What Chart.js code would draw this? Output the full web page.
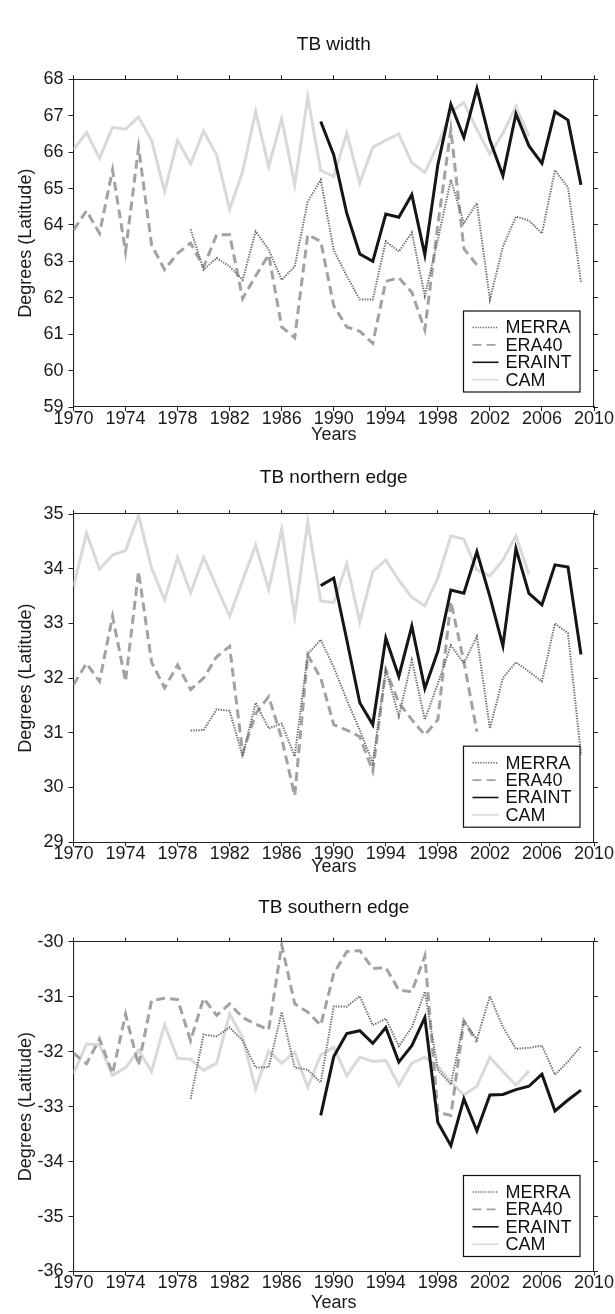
<!DOCTYPE html>
<html>
<head>
<meta charset="utf-8">
<script src="https://cdn.jsdelivr.net/npm/chart.js@4.4.1/dist/chart.umd.min.js"></script>
<style>
html,body{margin:0;padding:0;background:#fff;}
#wrap{position:relative;width:615px;height:1314px;overflow:hidden;}
canvas{position:absolute;left:0;}
</style>
</head>
<body>
<div id="wrap">
<canvas id="c1" width="615" height="445" style="top:0px"></canvas>
<canvas id="c2" width="615" height="432" style="top:445px"></canvas>
<canvas id="c3" width="615" height="437" style="top:877px"></canvas>
</div>
<script>
// ---------- DATA ----------
const years = [1970,1971,1972,1973,1974,1975,1976,1977,1978,1979,
               1980,1981,1982,1983,1984,1985,1986,1987,1988,1989,
               1990,1991,1992,1993,1994,1995,1996,1997,1998,1999,
               2000,2001,2002,2003,2004,2005,2006,2007,2008,2009];
const seriesNames = ['MERRA','ERA40','ERAINT','CAM'];
const xTickYears = [1970,1974,1978,1982,1986,1990,1994,1998,2002,2006,2010];
const panelTitles = ['TB width','TB northern edge','TB southern edge'];
const yTicksWidth = [59,60,61,62,63,64,65,66,67,68];
const yTicksNorth = [29,30,31,32,33,34,35];
const yTicksSouth = [-36,-35,-34,-33,-32,-31,-30];
const N = null;

// TB width
const widthMERRA = [N,N,N,N,N,N,N,N,N,
  63.88,62.77,63.09,62.86,62.49,63.82,63.32,62.49,62.86,64.64,65.24,
  63.30,62.60,61.95,61.95,63.55,63.27,63.79,62.05,63.60,65.24,
  64.05,64.60,61.95,63.40,64.23,64.12,63.77,65.50,65.03,62.43];
const widthERA40 = [63.86,64.39,63.77,65.51,63.27,66.13,63.45,62.77,63.22,63.50,
  62.85,63.73,63.73,61.98,62.60,63.18,61.20,60.90,63.73,63.55,
  61.78,61.20,61.08,60.75,62.45,62.55,62.15,61.12,64.00,66.62,
  63.35,62.90,N,N,N,N,N,N,N,N];
const widthERAINT = [N,N,N,N,N,N,N,N,N,N,N,N,N,N,N,N,N,N,N,
  66.84,65.92,64.32,63.20,63.00,64.30,64.21,64.83,63.18,65.65,67.31,
  66.40,67.75,66.33,65.35,67.05,66.17,65.69,67.11,66.88,65.10];
const widthCAM = [66.06,66.54,65.83,66.68,66.63,66.96,66.33,64.92,66.32,65.68,
  66.58,65.92,64.43,65.47,67.11,65.60,66.91,65.10,67.51,65.50,
  65.33,66.52,65.15,66.13,66.33,66.50,65.71,65.44,66.20,67.10,
  67.36,66.62,65.95,66.52,67.25,66.43,N,N,N,N];

// TB northern edge
const northMERRA = [N,N,N,N,N,N,N,N,N,
  31.04,31.05,31.43,31.40,30.57,31.55,31.08,31.17,30.57,32.44,32.70,
  32.20,31.60,31.05,30.45,32.15,31.30,32.33,31.24,31.90,32.60,
  32.27,32.76,31.08,32.00,32.29,32.12,31.94,33.00,32.82,30.60];
const northERA40 = [31.88,32.27,31.94,33.13,31.94,33.95,32.29,31.82,32.24,31.79,
  32.00,32.39,32.58,30.63,31.35,31.66,30.90,29.85,32.42,32.00,
  31.15,31.05,30.93,30.30,32.15,31.55,31.24,30.96,31.24,33.40,
  32.30,31.02,N,N,N,N,N,N,N,N];
const northERAINT = [N,N,N,N,N,N,N,N,N,N,N,N,N,N,N,N,N,N,N,
  33.69,33.83,32.70,31.55,31.15,32.73,32.03,32.95,31.81,32.49,33.61,
  33.55,34.31,33.49,32.59,34.37,33.55,33.34,34.07,34.03,32.43];
const northCAM = [33.67,34.65,33.99,34.25,34.33,34.98,34.01,33.43,34.21,33.56,
  34.21,33.67,33.13,33.79,34.43,33.62,34.72,33.13,34.86,33.41,
  33.38,34.09,33.03,33.95,34.16,33.79,33.48,33.32,33.83,34.60,
  34.54,33.98,33.87,34.16,34.60,33.90,N,N,N,N];

// TB southern edge
const southMERRA = [N,N,N,N,N,N,N,N,N,
  -32.86,-31.69,-31.72,-31.56,-31.80,-32.29,-32.28,-31.28,-32.29,-32.33,-32.56,
  -31.18,-31.18,-30.99,-31.52,-31.40,-31.90,-31.56,-30.91,-32.33,-32.60,
  -31.44,-31.78,-30.99,-31.55,-31.95,-31.93,-31.89,-32.42,-32.18,-31.90];
const southERA40 = [-32.03,-32.22,-31.77,-32.40,-31.32,-32.25,-31.07,-31.03,-31.05,-31.80,
  -31.03,-31.34,-31.13,-31.38,-31.50,-31.60,-30.06,-31.13,-31.28,-31.52,
  -30.58,-30.18,-30.16,-30.49,-30.47,-30.88,-30.91,-30.26,-33.10,-33.16,
  -31.44,-31.83,N,N,N,N,N,N,N,N];
const southERAINT = [N,N,N,N,N,N,N,N,N,N,N,N,N,N,N,N,N,N,N,
  -33.16,-32.09,-31.67,-31.62,-31.85,-31.56,-32.19,-31.89,-31.38,-33.29,-33.71,
  -32.86,-33.44,-32.79,-32.78,-32.69,-32.63,-32.41,-33.08,-32.88,-32.70];
const southCAM = [-32.40,-31.86,-31.87,-32.43,-32.29,-31.97,-32.36,-31.51,-32.12,-32.14,
  -32.34,-32.21,-31.31,-31.75,-32.68,-31.99,-32.21,-32.01,-32.65,-32.06,
  -31.92,-32.44,-32.10,-32.18,-32.16,-32.61,-32.21,-32.10,-32.27,-32.55,
  -32.79,-32.63,-32.10,-32.36,-32.61,-32.35,N,N,N,N];

// ---------- STYLE / LAYOUT ----------
const FONT = "'Liberation Sans', Arial, Helvetica, sans-serif";
Chart.defaults.font.family = FONT;
Chart.defaults.color = '#1a1a1a';

const styles = [
  {color:'#6a6a6a', width:2,   dash:[1.3,1.3], order:2, legW:1.6},
  {color:'#a2a2a2', width:3,   dash:[9,5],     order:3, legW:1.6},
  {color:'#151515', width:3,   dash:[],        order:1, legW:1.6},
  {color:'#d9d9d9', width:3,   dash:[],        order:4, legW:1.6}
];

const boxLegend = {
  id:'boxLegend',
  afterDatasetsDraw(chart){
    const {ctx, chartArea:a} = chart;
    const w = 116.5, h = 81;
    const x0 = a.right - 14 - w, y0 = a.bottom - 15 - h;
    ctx.save();
    ctx.fillStyle = '#fff';
    ctx.fillRect(x0, y0, w, h);
    ctx.lineWidth = 1.2;
    ctx.strokeStyle = '#111';
    ctx.strokeRect(x0, y0, w, h);
    ctx.font = '18px ' + FONT;
    ctx.textBaseline = 'middle';
    chart.data.datasets.forEach((ds, i) => {
      const y = y0 + 16.5 + i * 17.4;
      ctx.beginPath();
      ctx.setLineDash(ds.borderDash || []);
      ctx.strokeStyle = ds.borderColor;
      ctx.lineWidth = ds.legW;
      ctx.moveTo(x0 + 9, y);
      ctx.lineTo(x0 + 35, y);
      ctx.stroke();
      ctx.setLineDash([]);
      ctx.fillStyle = '#111';
      ctx.fillText(ds.label, x0 + 42, y + 1);
    });
    ctx.restore();
  }
};

function makePanel(id, title, seriesList, yTicks, L){
  const TITLE_LH = 19 * 1.2, AX_LH = 18 * 1.2;
  const datasets = seriesList.map((vals, i) => ({
    label: seriesNames[i],
    data: years.map((yr, k) => ({x: yr, y: vals[k]})),
    borderColor: styles[i].color,
    borderWidth: styles[i].width,
    borderDash: styles[i].dash,
    order: styles[i].order,
    legW: styles[i].legW,
    pointRadius: 0,
    tension: 0,
    spanGaps: false,
    fill: false
  }));
  const gridCommon = {drawOnChartArea:false, drawTicks:true, tickLength:4, color:'#222', lineWidth:1};
  const borderCommon = {display:true, color:'#222', width:1.1};
  const setTicks = (arr) => (s) => { s.ticks = arr.map(v => ({value:v})); };
  return new Chart(document.getElementById(id), {
    type:'line',
    data:{datasets},
    plugins:[boxLegend],
    options:{
      responsive:false,
      animation:false,
      events:[],
      layout:{padding:0},
      plugins:{
        legend:{display:false},
        tooltip:{enabled:false},
        title:{
          display:true, text:title, fullSize:false,
          font:{size:19, weight:'normal'}, color:'#111',
          padding:{top:L.titleY - TITLE_LH/2, bottom:0}
        }
      },
      scales:{
        x:{
          type:'linear', position:'bottom',
          min:xTickYears[0], max:xTickYears[xTickYears.length-1],
          afterBuildTicks: setTicks(xTickYears),
          afterFit:(s)=>{ s.height = L.h - L.plotBottom; },
          ticks:{autoSkip:false, maxRotation:0, minRotation:0, padding:-3,
                 font:{size:18}, color:'#1a1a1a', callback:(v)=>String(v)},
          grid:gridCommon, border:borderCommon,
          title:{display:true, text:'Years', font:{size:18}, color:'#1a1a1a',
                 padding:{top:0, bottom:L.h - L.yearsY - AX_LH/2}}
        },
        x2:{
          type:'linear', position:'top',
          min:xTickYears[0], max:xTickYears[xTickYears.length-1],
          afterBuildTicks: setTicks(xTickYears),
          afterFit:(s)=>{ s.height = L.plotTop - (L.titleY + TITLE_LH/2); },
          ticks:{display:false},
          grid:gridCommon, border:borderCommon
        },
        y:{
          type:'linear', position:'left',
          min:yTicks[0], max:yTicks[yTicks.length-1],
          afterBuildTicks: setTicks(yTicks),
          afterFit:(s)=>{ s.width = 73.5; },
          ticks:{padding:5, font:{size:18}, color:'#1a1a1a', callback:(v)=>String(v)},
          grid:Object.assign({}, gridCommon, {tickLength:5}), border:borderCommon,
          title:{display:true, text:'Degrees (Latitude)', font:{size:18}, color:'#1a1a1a',
                 padding:{top:15, bottom:0}}
        },
        y2:{
          type:'linear', position:'right',
          min:yTicks[0], max:yTicks[yTicks.length-1],
          afterBuildTicks: setTicks(yTicks),
          afterFit:(s)=>{ s.width = 615 - 594; },
          ticks:{display:false},
          grid:gridCommon, border:borderCommon
        }
      }
    }
  });
}

makePanel('c1', panelTitles[0], [widthMERRA, widthERA40, widthERAINT, widthCAM], yTicksWidth,
  {h:445, plotTop:79.3, plotBottom:407, titleY:45, yearsY:435});
makePanel('c2', panelTitles[1], [northMERRA, northERA40, northERAINT, northCAM], yTicksNorth,
  {h:432, plotTop:69, plotBottom:397.2, titleY:33, yearsY:422});
makePanel('c3', panelTitles[2], [southMERRA, southERA40, southERAINT, southCAM], yTicksSouth,
  {h:437, plotTop:64.7, plotBottom:394.5, titleY:31, yearsY:426});
</script>
</body>
</html>
